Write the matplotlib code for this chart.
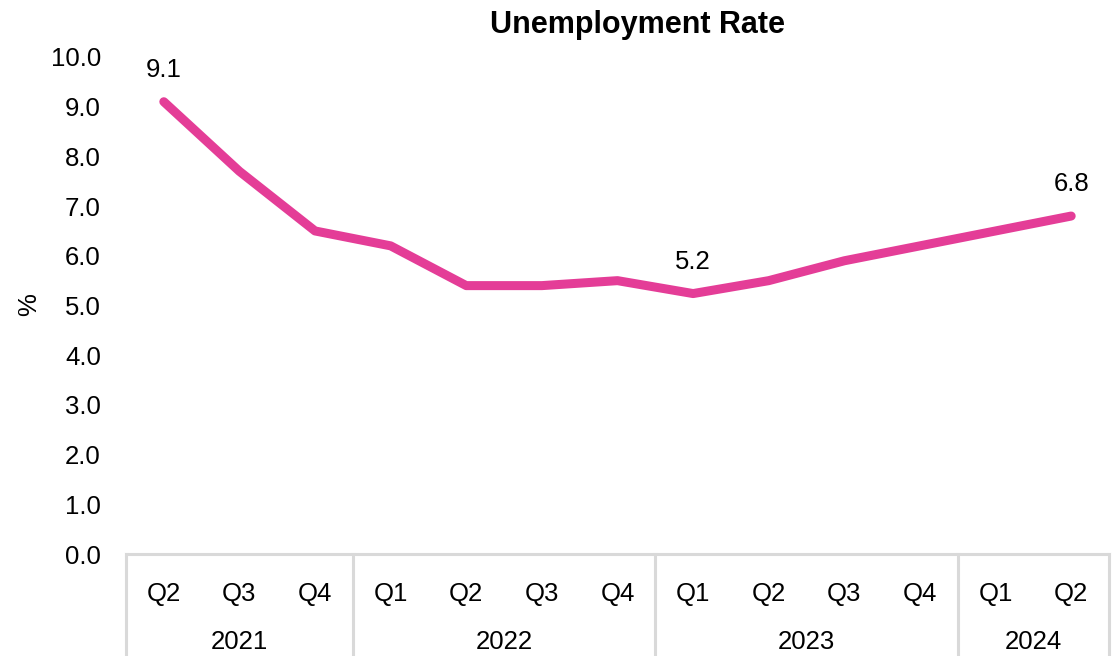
import matplotlib
matplotlib.use("Agg")
import matplotlib.pyplot as plt
import matplotlib.transforms as mtransforms

plt.rcParams["font.family"] = ["Liberation Sans", "DejaVu Sans"]

quarters = ["Q2", "Q3", "Q4", "Q1", "Q2", "Q3", "Q4", "Q1", "Q2", "Q3", "Q4", "Q1", "Q2"]
years = ["2021", "2022", "2023", "2024"]
year_counts = [3, 4, 4, 2]
rate = [9.1, 7.7, 6.5, 6.2, 5.4, 5.4, 5.5, 5.24, 5.5, 5.9, 6.2, 6.5, 6.8]
labelled = [0, 7, 12]

LINE = "#E43D97"
GRID = "#D9D9D9"
FS = 18.5

fig = plt.figure(figsize=(11.19, 6.56), dpi=100)
ax = fig.add_axes([126 / 1119, 102 / 656, 983 / 1119, 497 / 656])

x = list(range(len(rate)))
ax.plot(x, rate, color=LINE, lw=6.5, solid_capstyle="round", solid_joinstyle="round")

for i in labelled:
    ax.annotate(f"{rate[i]:.1f}", (x[i], rate[i]), xytext=(0, 23), textcoords="offset points",
                ha="center", va="center", fontsize=FS, color="black")

ax.set_xlim(-0.5, len(rate) - 0.5)
ax.set_ylim(0, 10)
ax.set_yticks(range(0, 11))
ax.set_yticklabels([f"{v:.1f}" for v in range(0, 11)], fontsize=FS)
ax.tick_params(axis="y", length=0, pad=18)

ax.set_xticks(x)
ax.set_xticklabels(quarters, fontsize=FS)
ax.tick_params(axis="x", length=0, pad=20)

for s in ["top", "right", "left"]:
    ax.spines[s].set_visible(False)
ax.spines["bottom"].set_color(GRID)
ax.spines["bottom"].set_linewidth(2.2)

# category group separators + year labels
trans = mtransforms.blended_transform_factory(ax.transData, ax.transAxes)
bottom = -102 / 497
start = -0.5
ax.plot([start, start], [0, bottom], color=GRID, lw=2.2, transform=trans, clip_on=False)
for yr, n in zip(years, year_counts):
    end = start + n
    ax.plot([end, end], [0, bottom], color=GRID, lw=2.2, transform=trans, clip_on=False)
    ax.text((start + end) / 2, -88 / 497, yr, transform=trans, ha="center", va="center",
            fontsize=FS)
    start = end

fig.text(29 / 1119, 1 - 305 / 656, "%", rotation=90, ha="center", va="center", fontsize=FS)
fig.text(638 / 1119, 1 - 25 / 656, "Unemployment Rate", ha="center", va="center",
         fontsize=22, fontweight="bold")

fig.savefig("out.png", dpi=100, facecolor="white")
